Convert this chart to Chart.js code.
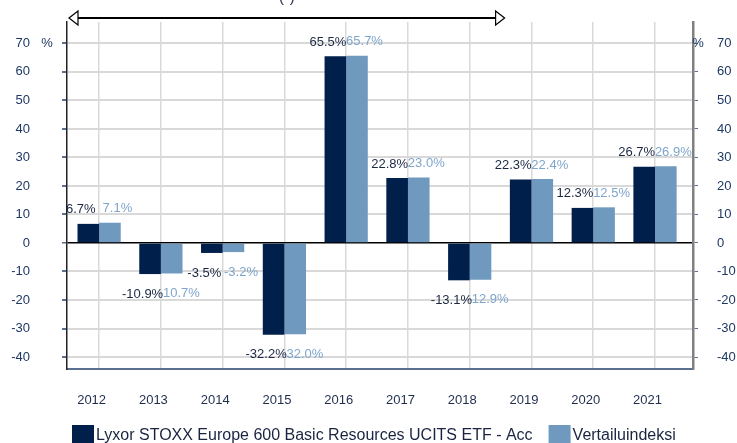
<!DOCTYPE html>
<html>
<head>
<meta charset="utf-8">
<script src="https://cdn.jsdelivr.net/npm/chart.js@4/dist/chart.umd.min.js"></script>
<style>
    html, body { margin: 0; padding: 0; background: #fff; overflow: hidden; }
    #wrap { width: 737px; height: 443px; }
</style>
</head>
<body>
<div id="wrap"><canvas id="canvas" width="737" height="443"></canvas></div>
<script>
var years = ['2012', '2013', '2014', '2015', '2016', '2017', '2018', '2019', '2020', '2021'];
var fundValues = [6.7, -10.9, -3.5, -32.2, 65.5, 22.8, -13.1, 22.3, 12.3, 26.7];
var indexValues = [7.1, -10.7, -3.2, -32.0, 65.7, 23.0, -12.9, 22.4, 12.5, 26.9];
var yTicks = [-40, -30, -20, -10, 0, 10, 20, 30, 40, 50, 60, 70];
var seriesNames = ['Lyxor STOXX Europe 600 Basic Resources UCITS ETF - Acc', 'Vertailuindeksi'];
var seriesColors = ['#001f4b', '#7099bf'];
var labelColors = ['#1c2742', '#7fa5cb'];

var FONT = "'Liberation Sans', Arial, sans-serif";

function points(vals) {
    return vals.map(function(v, i) { return {x: i, y: v}; });
}

// value labels above / below each bar
var valueLabels = {
    id: 'valueLabels',
    afterDatasetsDraw: function(chart) {
        var ctx = chart.ctx;
        ctx.save();
        ctx.font = '13px ' + FONT;
        ctx.textAlign = 'center';
        ctx.textBaseline = 'middle';
        [1, 0].forEach(function(d) {
            var meta = chart.getDatasetMeta(d);
            var vals = d === 0 ? fundValues : indexValues;
            ctx.fillStyle = labelColors[d];
            meta.data.forEach(function(bar, i) {
                var v = vals[i];
                var x = bar.x + (d === 0 ? -7.5 : 7.5);
                var y = v >= 0 ? bar.y - 14 : bar.y + 20;
                ctx.fillText(v.toFixed(1) + '%', x, y);
            });
        });
        ctx.restore();
    }
};

// arrow on top, % signs, legend at the bottom
var extras = {
    id: 'extras',
    afterDraw: function(chart) {
        var ctx = chart.ctx,
            a = chart.chartArea,
            xs = chart.scales.x,
            ys = chart.scales.y;
        ctx.save();

        var x1 = a.left + 2,
            x2 = xs.getPixelForValue(6.5) + 4,
            ay = 18,
            hl = 9,
            hh = 7;
        ctx.strokeStyle = '#000';
        ctx.lineWidth = 2;
        ctx.beginPath();
        ctx.moveTo(x1 + hl, ay);
        ctx.lineTo(x2 - hl, ay);
        ctx.stroke();
        ctx.lineWidth = 1.2;
        ctx.fillStyle = '#fff';
        ctx.beginPath();
        ctx.moveTo(x1, ay);
        ctx.lineTo(x1 + hl, ay - hh);
        ctx.lineTo(x1 + hl, ay + hh);
        ctx.closePath();
        ctx.fill();
        ctx.stroke();
        ctx.beginPath();
        ctx.moveTo(x2, ay);
        ctx.lineTo(x2 - hl, ay - hh);
        ctx.lineTo(x2 - hl, ay + hh);
        ctx.closePath();
        ctx.fill();
        ctx.stroke();

        ctx.fillStyle = '#1c2742';
        ctx.font = '15px ' + FONT;
        ctx.textAlign = 'center';
        ctx.textBaseline = 'alphabetic';
        ctx.fillText('(*)', (x1 + x2) / 2, 2);

        ctx.font = '13px ' + FONT;
        ctx.fillStyle = '#1f3864';
        ctx.textBaseline = 'middle';
        var py = ys.getPixelForValue(70);
        ctx.fillText('%', 47, py);
        ctx.fillText('%', 698, py);

        // legend
        ctx.font = '16px ' + FONT;
        ctx.textAlign = 'left';
        var lx = 72;
        seriesNames.forEach(function(name, i) {
            ctx.fillStyle = seriesColors[i];
            ctx.fillRect(lx, 425, 22, 20);
            ctx.fillStyle = '#1a2440';
            ctx.fillText(name, lx + 24, 436);
            lx += 24 + ctx.measureText(name).width + 16;
        });
        ctx.restore();
    }
};

function noEdgePadding(axis) {
    axis.paddingTop = 0;
    axis.paddingBottom = 0;
    axis.paddingLeft = 0;
    axis.paddingRight = 0;
}

window.onload = function() {
    var ctx = document.getElementById('canvas').getContext('2d');
    window.myBar = new Chart(ctx, {
        type: 'bar',
        data: {
            datasets: [{
                label: seriesNames[0],
                backgroundColor: seriesColors[0],
                data: points(fundValues)
            }, {
                label: seriesNames[1],
                backgroundColor: seriesColors[1],
                data: points(indexValues)
            }]
        },
        options: {
            responsive: false,
            animation: false,
            categoryPercentage: 0.7,
            barPercentage: 1.0,
            layout: {
                padding: {top: 22, left: 0, right: 0, bottom: 0}
            },
            plugins: {
                legend: {display: false},
                tooltip: {enabled: false}
            },
            scales: {
                x: {
                    type: 'linear',
                    offset: false,
                    min: -0.52,
                    max: 9.615,
                    afterBuildTicks: function(axis) {
                        axis.ticks = years.map(function(_, i) { return {value: i}; });
                    },
                    afterFit: function(axis) {
                        axis.height = 74;
                        noEdgePadding(axis);
                    },
                    grid: {
                        offset: false,
                        color: '#d9d9d9',
                        lineWidth: 1.5,
                        drawTicks: false
                    },
                    border: {color: '#5b7090', width: 2},
                    ticks: {
                        padding: 24,
                        labelOffset: -7.5,
                        maxRotation: 0,
                        color: '#1f2d4d',
                        font: {family: FONT, size: 13},
                        callback: function(v) { return years[v]; }
                    }
                },
                y: {
                    position: 'left',
                    min: -44.2,
                    max: 77.5,
                    afterBuildTicks: function(axis) {
                        axis.ticks = yTicks.map(function(v) { return {value: v}; });
                    },
                    afterFit: function(axis) {
                        axis.width = 67;
                        noEdgePadding(axis);
                    },
                    grid: {
                        color: function(c) { return c.tick && c.tick.value === 0 ? '#000' : '#d9d9d9'; },
                        lineWidth: function(c) { return c.tick && c.tick.value === 0 ? 1.5 : 2; },
                        tickColor: '#5b7090',
                        tickLength: 5
                    },
                    border: {color: '#222', width: 1.5},
                    ticks: {
                        padding: 32,
                        color: '#1f3864',
                        font: {family: FONT, size: 13}
                    }
                },
                y2: {
                    position: 'right',
                    min: -44.2,
                    max: 77.5,
                    afterBuildTicks: function(axis) {
                        axis.ticks = yTicks.map(function(v) { return {value: v}; });
                    },
                    afterFit: function(axis) {
                        axis.width = 44;
                        noEdgePadding(axis);
                    },
                    grid: {
                        drawOnChartArea: false,
                        tickColor: '#5b7090',
                        tickLength: 5
                    },
                    border: {color: '#808080', width: 2.5},
                    ticks: {
                        padding: 19,
                        color: '#1f3864',
                        font: {family: FONT, size: 13}
                    }
                }
            }
        },
        plugins: [valueLabels, extras]
    });
};
</script>
</body>
</html>
